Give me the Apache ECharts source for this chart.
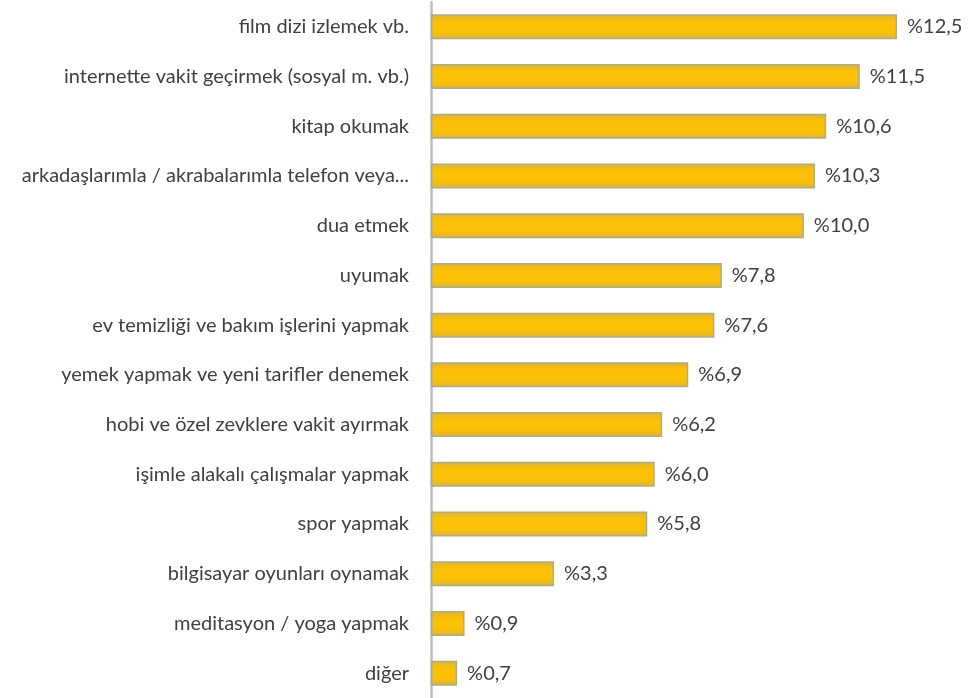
<!DOCTYPE html>
<html>
<head>
<meta charset="utf-8">
<script src="https://cdn.jsdelivr.net/npm/echarts@6/dist/echarts.min.js"></script>
<style>
  html, body { margin: 0; padding: 0; background: #fff; }
  #main { width: 980px; height: 698px; }
</style>
</head>
<body>
<div id="main"></div>
<script>
var categories = [
  'film dizi izlemek vb.',
  'internette vakit geçirmek (sosyal m. vb.)',
  'kitap okumak',
  'arkadaşlarımla / akrabalarımla telefon veya görüntülü görüşmek',
  'dua etmek',
  'uyumak',
  'ev temizliği ve bakım işlerini yapmak',
  'yemek yapmak ve yeni tarifler denemek',
  'hobi ve özel zevklere vakit ayırmak',
  'işimle alakalı çalışmalar yapmak',
  'spor yapmak',
  'bilgisayar oyunları oynamak',
  'meditasyon / yoga yapmak',
  'diğer'
];
var values = [12.5, 11.5, 10.6, 10.3, 10.0, 7.8, 7.6, 6.9, 6.2, 6.0, 5.8, 3.3, 0.9, 0.7];

var myChart = echarts.init(document.getElementById('main'));
var option = {
  animation: false,
  grid: { left: 431, right: 27, top: 2, bottom: -2 },
  xAxis: {
    type: 'value',
    min: 0,
    max: 14,
    show: false
  },
  yAxis: {
    type: 'category',
    inverse: true,
    data: categories,
    axisLine: { show: true, lineStyle: { color: '#BFBFBF', width: 2.5 } },
    axisTick: { show: false },
    axisLabel: {
      color: '#404040',
      fontFamily: 'Lato',
      fontSize: 20,
      margin: 22,
      width: 428,
      overflow: 'truncate',
      ellipsis: '...'
    }
  },
  series: [{
    type: 'bar',
    data: values,
    barWidth: 25,
    itemStyle: {
      color: {
        type: 'linear', x: 0, y: 0, x2: 0, y2: 1,
        colorStops: [
          { offset: 0, color: '#D9B53A' },
          { offset: 0.3, color: '#FCC006' },
          { offset: 0.7, color: '#FCC006' },
          { offset: 1, color: '#D9B53A' }
        ]
      },
      borderColor: '#AFAB84',
      borderWidth: 1.5
    },
    label: {
      show: true,
      position: 'right',
      distance: 10,
      color: '#404040',
      fontFamily: 'Lato',
      fontSize: 20,
      formatter: function (p) {
        return '%' + p.value.toFixed(1).replace('.', ',');
      }
    }
  }]
};
myChart.setOption(option, true);
</script>
</body>
</html>
